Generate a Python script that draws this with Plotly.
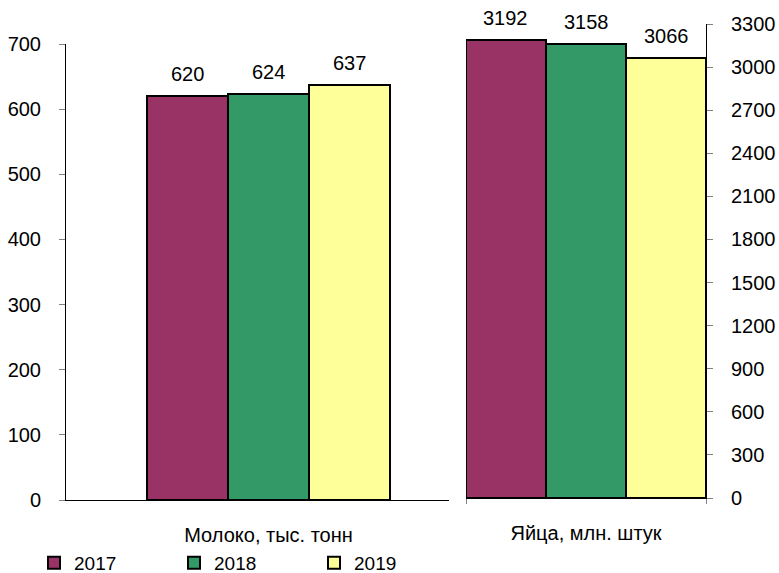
import plotly.graph_objects as go

years = ["2017", "2018", "2019"]
colors = ["#993366", "#339966", "#FFFF99"]
milk_label = "Молоко, тыс. тонн"
eggs_label = "Яйца, млн. штук"
milk = [620, 624, 637]
eggs = [3192, 3158, 3066]
milk_ticks = list(range(0, 701, 100))
eggs_ticks = list(range(0, 3301, 300))

W, H = 779, 573
FONT = "Liberation Sans, Arial, sans-serif"

fig = go.Figure()
for i, (yr, col) in enumerate(zip(years, colors)):
    pos = i - 1
    fig.add_trace(go.Bar(
        x=[pos], y=[milk[i]], width=1, name=yr, legendgroup=yr,
        marker=dict(color=col, line=dict(color="black", width=2)),
        xaxis="x", yaxis="y", showlegend=True, hoverinfo="skip"))
    fig.add_trace(go.Bar(
        x=[pos], y=[eggs[i]], width=1, name=yr, legendgroup=yr,
        marker=dict(color=col, line=dict(color="black", width=2)),
        xaxis="x2", yaxis="y2", showlegend=False, hoverinfo="skip"))
    fig.add_annotation(x=pos, y=milk[i], xref="x", yref="y", text=str(milk[i]),
                       showarrow=False, yanchor="bottom", yshift=9,
                       font=dict(family=FONT, size=20, color="black"))
    fig.add_annotation(x=pos, y=eggs[i], xref="x2", yref="y2", text=str(eggs[i]),
                       showarrow=False, yanchor="bottom", yshift=9,
                       font=dict(family=FONT, size=20, color="black"))

axis_font = dict(family=FONT, size=20, color="black")
cat_font = dict(family=FONT, size=20, color="black")
fig.update_layout(
    width=W, height=H,
    margin=dict(l=0, r=0, t=0, b=0, autoexpand=False),
    paper_bgcolor="white", plot_bgcolor="white",
    barmode="overlay", bargap=0,
    font=dict(family=FONT, size=19, color="black"),
    xaxis=dict(domain=[66 / W, 449 / W], range=[-2.5, 2.228],
               tickvals=[0], ticktext=[milk_label], ticks="",
               showline=True, linecolor="black", linewidth=1,
               showgrid=False, zeroline=False, tickfont=cat_font,
               ticklabelstandoff=17, automargin=False, fixedrange=True),
    yaxis=dict(domain=[(H - 500) / H, (H - 44) / H], range=[0, 700],
               tickvals=milk_ticks, ticks="outside", ticklen=6, tickcolor="#808080",
               showline=True, linecolor="black", linewidth=1,
               showgrid=False, zeroline=False, tickfont=axis_font,
               ticklabelstandoff=14, automargin=False, fixedrange=True),
    xaxis2=dict(domain=[466 / W, 706 / W], range=[-1.5, 1.5], anchor="y2",
                tickvals=[0], ticktext=[eggs_label], ticks="",
                minor=dict(tickvals=[-1.5, 1.5], ticks="outside", ticklen=5, tickcolor="#808080"),
                showline=True, linecolor="black", linewidth=1,
                showgrid=False, zeroline=False, tickfont=cat_font,
                ticklabelstandoff=17, automargin=False, fixedrange=True),
    yaxis2=dict(domain=[(H - 498) / H, (H - 24) / H], range=[0, 3300], anchor="x2",
                side="right", tickvals=eggs_ticks, ticks="outside", ticklen=6,
                tickcolor="#808080", showline=True, linecolor="black", linewidth=1,
                showgrid=False, zeroline=False, tickfont=axis_font,
                ticklabelstandoff=14, automargin=False, fixedrange=True),
    legend=dict(orientation="h", x=34 / W, xanchor="left", y=(H - 563) / H, yanchor="middle",
                font=dict(family=FONT, size=19, color="black"),
                entrywidth=95, entrywidthmode="pixels", itemwidth=30,
                bgcolor="rgba(0,0,0,0)"),
)

fig.write_html("out.html", config={"displayModeBar": False},
               post_script="document.body.style.margin='0';document.body.style.overflow='hidden';")
